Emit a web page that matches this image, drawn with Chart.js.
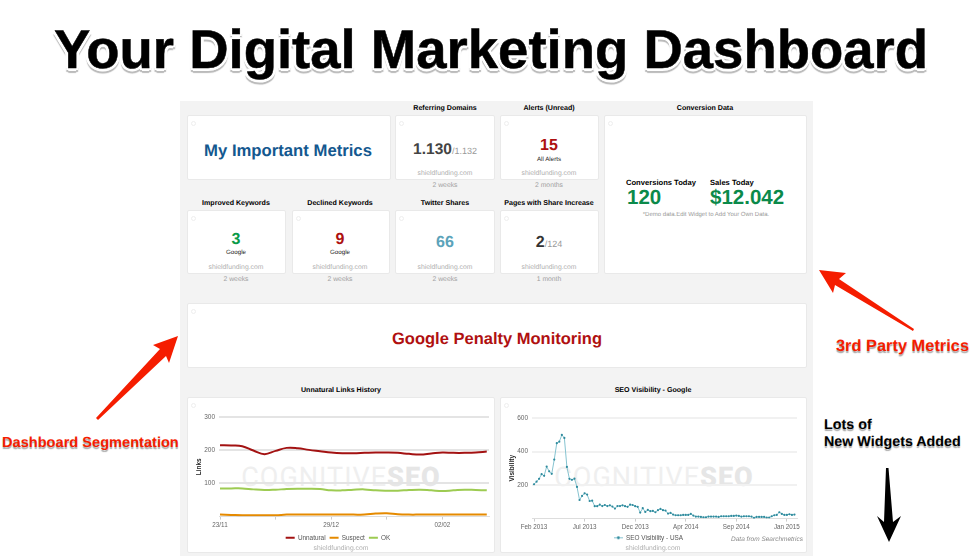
<!DOCTYPE html>
<html>
<head>
<meta charset="utf-8">
<script src="https://cdn.jsdelivr.net/npm/chart.js@4"></script>
<style>
html, body { margin: 0; padding: 0; background: #fff; }
body { width: 979px; height: 556px; overflow: hidden; position: relative; font-family: "Liberation Sans", Arial, sans-serif; text-rendering: geometricPrecision; }
.abs, .card, .t { position: absolute; }
.t { white-space: nowrap; line-height: 1; transform: translate(-50%, -50%); }
.l { transform: translate(0, -50%); }
#board { position: absolute; left: 180px; top: 101px; width: 633px; height: 455px; background: #f3f3f3; }
.card { background: #fff; border: 1px solid #e9e9e9; box-sizing: border-box; border-radius: 2px; }
.card::before { content: ""; position: absolute; left: 3px; top: 5px; width: 5px; height: 5px; border: 1px solid #eee; border-radius: 50%; box-sizing: border-box; }
.head { font-size: 7.1px; font-weight: bold; color: #000; margin-top: 1.3px; }
.head2 { font-size: 7.6px; font-weight: bold; color: #000; margin-top: 1px; }
.site { font-size: 6.8px; color: #b0b0b0; margin-top: 1.3px; }
.age { font-size: 6.8px; color: #a0a0a0; margin-top: 1.3px; }
.sub { font-size: 6.2px; color: #222; margin-top: 1.3px; }
.big { font-weight: bold; }
.small { font-weight: normal; color: #999; font-size: 9px; }
.note { font-weight: bold; margin-top: 1px; text-shadow: 0 2px 1px #aaa, 1px 1px 0 #fff, -1px -1px 0 #fff; }
#title { font-size: 54.5px; font-weight: bold; color: #000; -webkit-text-stroke: 0.5px #000;
  text-shadow: 3px 0 0 #fff, -3px 0 0 #fff, 0 3px 0 #fff, 0 -3px 0 #fff, 2px 2px 0 #fff, -2px 2px 0 #fff, 2px -2px 0 #fff, -2px -2px 0 #fff,
    0 5px 1px #bbb, 2px 4px 1px #bbb, -2px 4px 1px #bbb; }
.mark { font-size: 27px; color: #efefef; letter-spacing: 1px; font-family: Roboto, "Liberation Sans", sans-serif; font-weight: 400; }
.mark b { font-weight: 900; color: #e6e6e6; }
canvas { position: absolute; display: block; }
svg { position: absolute; left: 0; top: 0; }
</style>
</head>
<body>
<div id="board"></div>

<div class="t" id="title" style="left:491px;top:50px">Your Digital Marketing Dashboard</div>

<div class="card" style="left:187px;top:115px;width:204px;height:65px"></div>
<div class="card" style="left:395px;top:115px;width:100px;height:65px"></div>
<div class="card" style="left:500px;top:115px;width:99px;height:65px"></div>
<div class="card" style="left:604px;top:115px;width:203px;height:159px"></div>
<div class="card" style="left:187px;top:210px;width:99px;height:64px"></div>
<div class="card" style="left:292px;top:210px;width:98px;height:64px"></div>
<div class="card" style="left:395px;top:210px;width:100px;height:64px"></div>
<div class="card" style="left:500px;top:210px;width:99px;height:64px"></div>
<div class="card" style="left:187px;top:303px;width:620px;height:65px"></div>
<div class="card" style="left:187px;top:397px;width:308px;height:156px"></div>
<div class="card" style="left:500px;top:397px;width:307px;height:156px"></div>

<div class="t head" style="left:445px;top:108px">Referring Domains</div>
<div class="t head" style="left:549px;top:108px">Alerts (Unread)</div>
<div class="t head" style="left:705px;top:108px">Conversion Data</div>
<div class="t head" style="left:236px;top:203px">Improved Keywords</div>
<div class="t head" style="left:340px;top:203px">Declined Keywords</div>
<div class="t head" style="left:445px;top:203px">Twitter Shares</div>
<div class="t head" style="left:549px;top:203px">Pages with Share Increase</div>
<div class="t head" style="left:341px;top:390px">Unnatural Links History</div>
<div class="t head" style="left:653px;top:390px">SEO Visibility - Google</div>

<div class="t big" style="left:288px;top:150.5px;font-size:16.7px;color:#14588f">My Important Metrics</div>
<div class="t big" style="left:445px;top:150px;font-size:15.5px;color:#444">1.130<span class="small">/1.132</span></div>
<div class="t site" style="left:445px;top:173px">shieldfunding.com</div>
<div class="t age" style="left:445px;top:185px">2 weeks</div>

<div class="t big" style="left:549px;top:146px;font-size:16px;color:#ad1010">15</div>
<div class="t sub" style="left:549px;top:159px">All Alerts</div>
<div class="t site" style="left:549px;top:173px">shieldfunding.com</div>
<div class="t age" style="left:549px;top:185px">2 months</div>

<div class="t big" style="left:236px;top:240px;font-size:16px;color:#0a9a48">3</div>
<div class="t sub" style="left:236px;top:252px">Google</div>
<div class="t site" style="left:236px;top:267px">shieldfunding.com</div>
<div class="t age" style="left:236px;top:279px">2 weeks</div>

<div class="t big" style="left:340px;top:240px;font-size:16px;color:#ad1010">9</div>
<div class="t sub" style="left:340px;top:252px">Google</div>
<div class="t site" style="left:340px;top:267px">shieldfunding.com</div>
<div class="t age" style="left:340px;top:279px">2 weeks</div>

<div class="t big" style="left:445px;top:243px;font-size:16px;color:#5ba3ba">66</div>
<div class="t site" style="left:445px;top:267px">shieldfunding.com</div>
<div class="t age" style="left:445px;top:279px">2 weeks</div>

<div class="t big" style="left:549px;top:243px;font-size:16px;color:#333">2<span class="small">/124</span></div>
<div class="t site" style="left:549px;top:267px">shieldfunding.com</div>
<div class="t age" style="left:549px;top:279px">1 month</div>

<div class="t l head2" style="left:626px;top:182px">Conversions Today</div>
<div class="t l head2" style="left:710px;top:182px">Sales Today</div>
<div class="t l big" style="left:627px;top:198px;font-size:20.5px;color:#0b8a4a">120</div>
<div class="t l big" style="left:710px;top:198px;font-size:20.5px;color:#0b8a4a">$12.042</div>
<div class="t" style="left:706px;top:214.5px;font-size:6px;color:#999">*Demo data.Edit Widget to Add Your Own Data.</div>

<div class="t big" style="left:497px;top:339px;font-size:16.5px;color:#b01010">Google Penalty Monitoring</div>

<div class="t mark" style="left:341px;top:477px">COGNITIVE<b>SEO</b></div>
<div class="t mark" style="left:654px;top:477px">COGNITIVE<b>SEO</b></div>

<canvas id="linksChart" width="308" height="156" style="left:187px;top:397px"></canvas>
<canvas id="visibilityChart" width="307" height="156" style="left:500px;top:397px"></canvas>

<div class="t site" style="left:341px;top:548px">shieldfunding.com</div>
<div class="t site" style="left:653px;top:548px">shieldfunding.com</div>
<div class="t" style="left:767px;top:539.5px;font-size:6.5px;font-style:italic;color:#888">Data from Searchmetrics</div>

<div class="t l note" style="left:2px;top:442px;font-size:14.6px;color:#f51d00">Dashboard Segmentation</div>
<div class="t l note" style="left:836px;top:345px;font-size:16.4px;color:#f51d00">3rd Party Metrics</div>
<div class="t l note" style="left:824px;top:424px;font-size:14.3px;color:#000">Lots of</div>
<div class="t l note" style="left:824px;top:441px;font-size:14.3px;color:#000">New Widgets Added</div>

<svg width="979" height="556">
  <polygon fill="#f51d00" points="178,336 153,345 160,349 96,418 98,420 166,356 169,363"/>
  <polygon fill="#f51d00" points="819,270 846,273 839,279 914,329 913,331 835,285 833,293"/>
  <polygon fill="#000" points="886,468 888.5,468 893,522 901,516 889,542 877,516 884,522"/>
</svg>

<script>
// Unnatural Links History
const unnaturalValues = [215, 214, 212, 199, 188, 198, 207, 206, 201, 197, 193, 191, 191, 192, 193, 193, 192, 189, 187, 190, 193, 192, 192, 193, 196];
const suspectValues = [6, 5, 4, 4, 4, 4, 6, 6, 6, 6, 6, 6, 6, 6, 9, 10, 7, 6, 6, 6, 6, 6, 6, 6, 6];
const okValues = [85, 85, 85, 82, 80, 81, 83, 84, 84, 83, 79, 79, 81, 82, 79, 78, 78, 80, 81, 79, 77, 79, 81, 80, 79];
const linksTicks = [0, 5, 10, 15, 20];
const linksTickLabels = ['23/11', '', '29/12', '', '02/02'];

// SEO Visibility - Google
const visibilityValues = [205, 220, 237, 265, 255, 310, 282, 267, 352, 450, 459, 499, 481, 308, 237, 231, 238, 189, 111, 135,
    151, 143, 105, 107, 74, 74, 83, 75, 81, 75, 79, 72, 60, 75, 75, 79, 74, 70, 83, 81,
    74, 70, 36, 62, 40, 52, 44, 46, 38, 50, 58, 50, 48, 30, 34, 24, 20, 20, 20, 22,
    22, 22, 28, 18, 12, 12, 10, 8, 8, 12, 12, 12, 12, 10, 14, 14, 14, 14, 16, 16,
    18, 16, 12, 14, 14, 14, 12, 4, 10, 10, 10, 10, 6, 6, 14, 20, 22, 38, 28, 22,
    22, 26, 22, 24];
const visibilityTicks = [0, 20, 40, 60, 80, 100];
const visibilityTickLabels = ['Feb 2013', 'Jul 2013', 'Dec 2013', 'Apr 2014', 'Sep 2014', 'Jan 2015'];

const toPoints = values => values.map((y, x) => ({ x, y }));

// Small line-with-dot legend marker
const lineDotMarker = (lineColor, dotColor) => {
    const marker = document.createElement('canvas');
    marker.width = 9;
    marker.height = 5;
    const ctx = marker.getContext('2d');
    ctx.fillStyle = lineColor;
    ctx.fillRect(0, 2, 9, 1);
    ctx.fillStyle = dotColor;
    ctx.beginPath();
    ctx.arc(4.5, 2.5, 1.4, 0, Math.PI * 2);
    ctx.fill();
    return marker;
};

// Options shared by both charts
const chartOptions = ({ xMin, xMax, yMax, yStep, yTitle, ticks, tickLabels, plotLeft, plotRight, plotTop, xHeight, gridColor, gridWidth, legendLabels }) => ({
    responsive: false,
    animation: false,
    layout: { padding: { top: plotTop, right: plotRight, bottom: 2, left: 0 } },
    scales: {
        x: {
            type: 'linear',
            min: xMin,
            max: xMax,
            afterBuildTicks: scale => { scale.ticks = ticks.map(value => ({ value })); },
            afterFit: scale => { scale.height = xHeight; },
            border: { color: '#dddddd' },
            grid: { drawOnChartArea: false, tickLength: 3, color: '#cccccc' },
            ticks: {
                autoSkip: false,
                maxRotation: 0,
                padding: 2,
                font: { size: 6.3, family: 'Liberation Sans' },
                color: '#666666',
                callback: value => tickLabels[ticks.indexOf(value)]
            }
        },
        y: {
            min: 0,
            max: yMax,
            afterFit: scale => { scale.width = plotLeft; },
            border: { display: false },
            grid: {
                drawTicks: false,
                lineWidth: gridWidth,
                color: ctx => ctx.tick.value === 0 ? 'rgba(0,0,0,0)' : gridColor
            },
            title: {
                display: true,
                text: yTitle,
                color: '#222222',
                padding: { top: 8, bottom: 0 },
                font: { size: 6.5, weight: 'bold', family: 'Liberation Sans' }
            },
            ticks: {
                stepSize: yStep,
                padding: 4,
                font: { size: 6.5, family: 'Liberation Sans' },
                color: '#666666',
                callback: value => value === 0 ? '' : value
            }
        }
    },
    plugins: {
        tooltip: { enabled: false },
        legend: {
            position: 'bottom',
            labels: { font: { size: 6.4, family: 'Liberation Sans' }, color: '#555555', usePointStyle: true, pointStyleWidth: 9, boxHeight: 3, padding: 4, ...legendLabels }
        }
    }
});

const makeSeries = (label, values, color) => ({
    label,
    data: toPoints(values),
    borderColor: color,
    backgroundColor: color,
    borderWidth: 2,
    pointRadius: 0,
    tension: 0.4
});

new Chart(document.getElementById('linksChart'), {
    type: 'line',
    data: {
        datasets: [
            makeSeries('Unnatural', unnaturalValues, '#a31212'),
            makeSeries('Suspect', suspectValues, '#e58a00'),
            makeSeries('OK', okValues, '#9dcb52')
        ]
    },
    options: chartOptions({
        xMin: -0.09, xMax: 24.2, yMax: 300, yStep: 100, yTitle: 'Links',
        ticks: linksTicks, tickLabels: linksTickLabels,
        plotLeft: 32, plotRight: 6, plotTop: 20, xHeight: 14,
        gridColor: '#e4e4e4', gridWidth: 2,
        legendLabels: { pointStyle: 'line' }
    })
});

const visibilityColor = '#86c3d0';
const visibilityDot = '#2f8b9d';
new Chart(document.getElementById('visibilityChart'), {
    type: 'line',
    data: {
        datasets: [{
            label: 'SEO Visibility - USA',
            data: toPoints(visibilityValues),
            borderColor: visibilityColor,
            backgroundColor: visibilityDot,
            borderWidth: 1,
            pointRadius: 1.1,
            pointBorderWidth: 0,
            pointBackgroundColor: visibilityDot,
            tension: 0
        }]
    },
    options: chartOptions({
        xMin: -0.8, xMax: 104, yMax: 600, yStep: 200, yTitle: 'Visibility',
        ticks: visibilityTicks, tickLabels: visibilityTickLabels,
        plotLeft: 32, plotRight: 10, plotTop: 21, xHeight: 12,
        gridColor: '#f1f1f1', gridWidth: 2,
        legendLabels: { pointStyle: lineDotMarker(visibilityColor, visibilityDot) }
    })
});
</script>
</body>
</html>
